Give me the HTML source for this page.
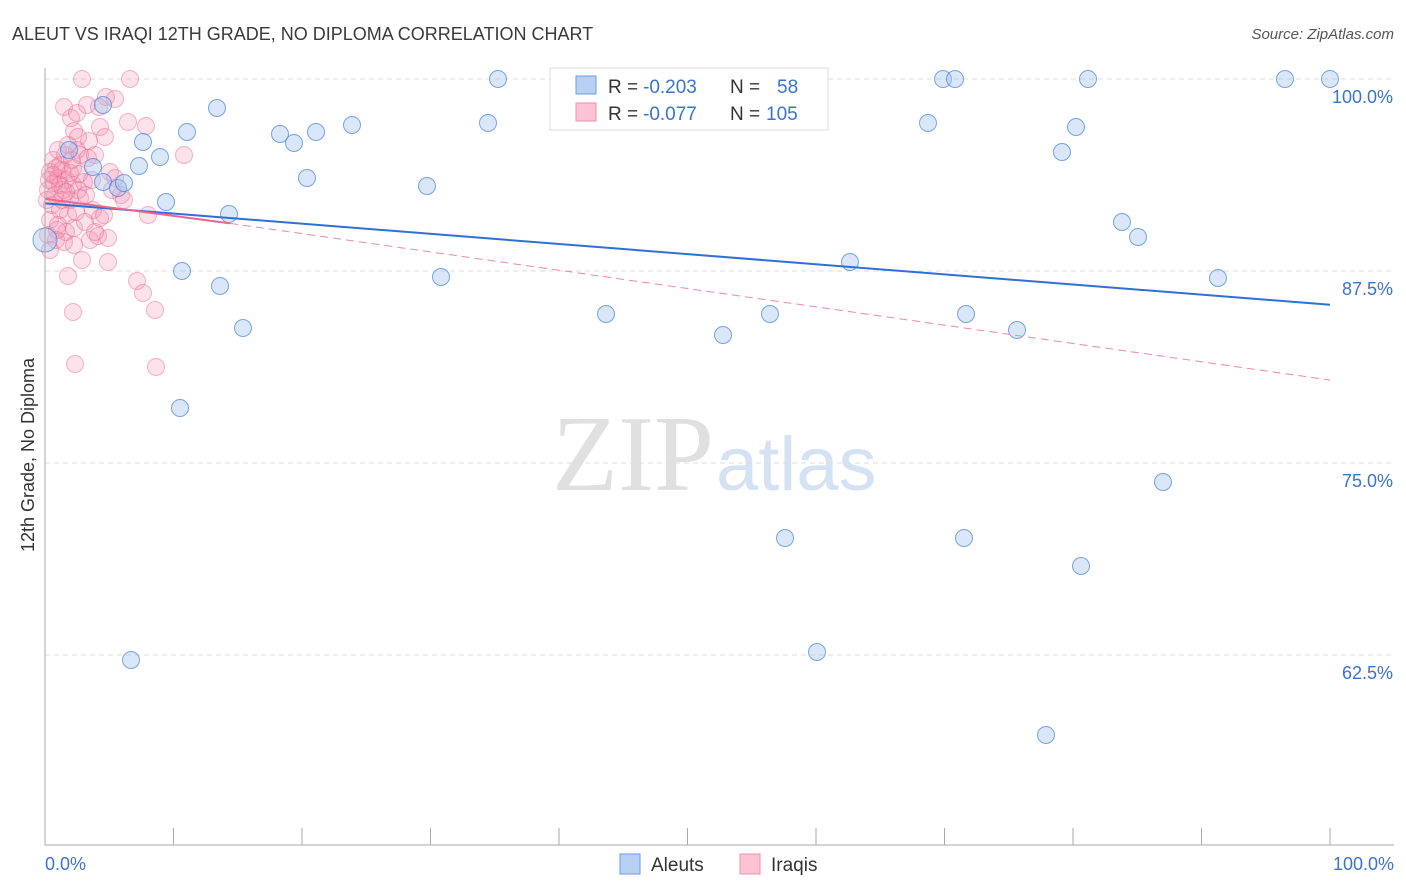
<!DOCTYPE html>
<html><head><meta charset="utf-8"><style>
body{margin:0;background:#fff;font-family:"Liberation Sans",sans-serif;}
svg{display:block}
</style></head><body>
<svg id="chart" width="1406" height="892">
<text x="12" y="40" font-size="18" fill="#3a3a3a">ALEUT VS IRAQI 12TH GRADE, NO DIPLOMA CORRELATION CHART</text>
<text x="1394" y="39" font-size="15" fill="#555" font-style="italic" text-anchor="end">Source: ZipAtlas.com</text>
<text x="714" y="490" font-size="108" fill="#e0e0e0" text-anchor="end" font-family="Liberation Serif, serif">ZIP</text>
<text x="716" y="490" font-size="76" fill="#d4e2f4">atlas</text>
<g id="grid"></g><g id="pts"></g><g id="lines"></g>
<line x1="45" y1="68" x2="45" y2="845" stroke="#aaa"/>
<line x1="45" y1="845" x2="1394" y2="845" stroke="#aaa"/>
<text transform="translate(34,455) rotate(-90)" font-size="18" fill="#333" text-anchor="middle">12th Grade, No Diploma</text>
<text x="45" y="870" font-size="18" fill="#3b73d1">0.0%</text>
<text x="1394" y="870" font-size="18" fill="#3b73d1" text-anchor="end">100.0%</text>
<g>
<rect x="550" y="68" width="278" height="62" fill="#fff" stroke="#ddd"/>
<rect x="576" y="76" width="20" height="18" fill="#b8d0f4" stroke="#6f9ee0"/>
<rect x="576" y="103" width="20" height="18" fill="#fbc3d4" stroke="#f08fad"/>
<text x="608" y="93" font-size="19" fill="#333">R =</text>
<text x="643" y="93" font-size="19" fill="#3b73d1">-0.203</text>
<text x="730" y="93" font-size="19" fill="#333">N =</text>
<text x="777" y="93" font-size="19" fill="#3b73d1">58</text>
<text x="608" y="120" font-size="19" fill="#333">R =</text>
<text x="643" y="120" font-size="19" fill="#3b73d1">-0.077</text>
<text x="730" y="120" font-size="19" fill="#333">N =</text>
<text x="766" y="120" font-size="19" fill="#3b73d1">105</text>
</g>
<g>
<rect x="620" y="854" width="20" height="20" fill="#b8d0f4" stroke="#6f9ee0"/>
<text x="651" y="871" font-size="19" fill="#333">Aleuts</text>
<rect x="740" y="854" width="20" height="20" fill="#fbc3d4" stroke="#f08fad"/>
<text x="771" y="871" font-size="19" fill="#333">Iraqis</text>
</g>
</svg>
<script>
const yTicks=[100,87.5,75,62.5];
const yTickLabels=["100.0%","87.5%","75.0%","62.5%"];
const xTicks=[0,10,20,30,40,50,60,70,80,90,100];
const aleutPx=[[45,240],[69,150],[93,167],[103,105],[103,182],[118,188],[124,183],[131,660],[139,166],[143,142],[160,157],[166,202],[180,408],[182,271],[187,132],[217,108],[220,286],[229,214],[243,328],[280,134],[294,143],[307,178],[316,132],[352,125],[427,186],[441,277],[488,123],[498,79],[606,314],[650,79],[723,335],[760,79],[770,314],[785,538],[817,652],[850,262],[928,123],[943,79],[955,79],[964,538],[966,314],[1017,330],[1046,735],[1062,152],[1076,127],[1081,566],[1088,79],[1122,222],[1138,237],[1163,482],[1218,278],[1285,79],[1330,79]];
const iraqiPx=[[82,79],[130,79],[106,97],[115,99],[64,107],[71,118],[77,113],[87,105],[99,107],[74,131],[78,137],[89,141],[77,150],[100,127],[105,137],[146,126],[128,122],[184,155],[53,160],[60,165],[65,155],[72,160],[80,155],[88,158],[50,172],[58,178],[66,180],[73,185],[84,182],[92,180],[48,190],[55,195],[63,190],[70,200],[80,198],[52,205],[60,210],[68,215],[76,212],[50,220],[58,225],[66,232],[74,228],[85,222],[100,218],[48,235],[56,240],[64,242],[90,240],[98,236],[108,238],[95,232],[115,178],[110,172],[121,195],[148,215],[74,245],[82,260],[108,262],[68,276],[137,281],[143,293],[155,310],[73,312],[75,364],[156,367],[60,185],[54,183],[62,170],[70,173],[78,190],[86,195],[93,210],[104,215],[112,190],[124,200],[58,150],[68,145],[95,155],[47,200],[50,250],[57,230],[62,200],[66,192],[53,175],[56,168],[49,180],[73,168],[79,174]];
const aleutX=aleutPx.map(p=>(p[0]-45)/12.85), aleutY=aleutPx.map(p=>100-(p[1]-79)/15.36);
const iraqiX=iraqiPx.map(p=>(p[0]-45)/12.85), iraqiY=iraqiPx.map(p=>100-(p[1]-79)/15.36);
const aleutTrend=[[0,91.9],[100,85.3]];
const iraqiTrend=[[0,92.2],[14.4,90.6],[100,80.4]];
const X=v=>45+v*12.85, Y=v=>79+(100-v)*15.36;
const NS="http://www.w3.org/2000/svg";
function mk(t,a,p){const e=document.createElementNS(NS,t);for(const k in a)e.setAttribute(k,a[k]);p.appendChild(e);return e;}
const g=document.getElementById('grid'),pts=document.getElementById('pts'),ln=document.getElementById('lines');
yTicks.forEach((t,i)=>{const l=mk('line',{x1:45,x2:1394,y1:Y(t),y2:Y(t),stroke:'#ddd','stroke-dasharray':'5,4'},g);


const tx=mk('text',{x:1393,y:Y(t)+24,'font-size':18,fill:'#3b73d1','text-anchor':'end'},g);tx.textContent=yTickLabels[i];

});
xTicks.forEach(t=>{const l=mk('line',{x1:X(t),x2:X(t),y1:828,y2:845,stroke:'#aaa'},g);

});
iraqiX.forEach((x,i)=>{const c=mk('circle',{cx:X(x),cy:Y(iraqiY[i]),r:8.5,fill:'rgba(244,143,177,0.25)',stroke:'rgba(236,110,150,0.5)','stroke-width':1},pts);

});
aleutX.forEach((x,i)=>{const c=mk('circle',{cx:X(x),cy:Y(aleutY[i]),r:i===0?12:8.5,fill:'rgba(160,195,240,0.4)',stroke:'rgba(70,130,215,0.7)','stroke-width':1},pts);

});
let l1=mk('line',{x1:X(aleutTrend[0][0]),y1:Y(aleutTrend[0][1]),x2:X(aleutTrend[1][0]),y2:Y(aleutTrend[1][1]),stroke:'#2f6fd6','stroke-width':2},ln);


let l2=mk('line',{x1:X(iraqiTrend[0][0]),y1:Y(iraqiTrend[0][1]),x2:X(iraqiTrend[1][0]),y2:Y(iraqiTrend[1][1]),stroke:'#e8668f','stroke-width':2},ln);


let l3=mk('line',{x1:X(iraqiTrend[1][0]),y1:Y(iraqiTrend[1][1]),x2:X(iraqiTrend[2][0]),y2:Y(iraqiTrend[2][1]),stroke:'#ec8aa9','stroke-width':1,'stroke-dasharray':'8,5'},ln);


</script>
</body></html>
